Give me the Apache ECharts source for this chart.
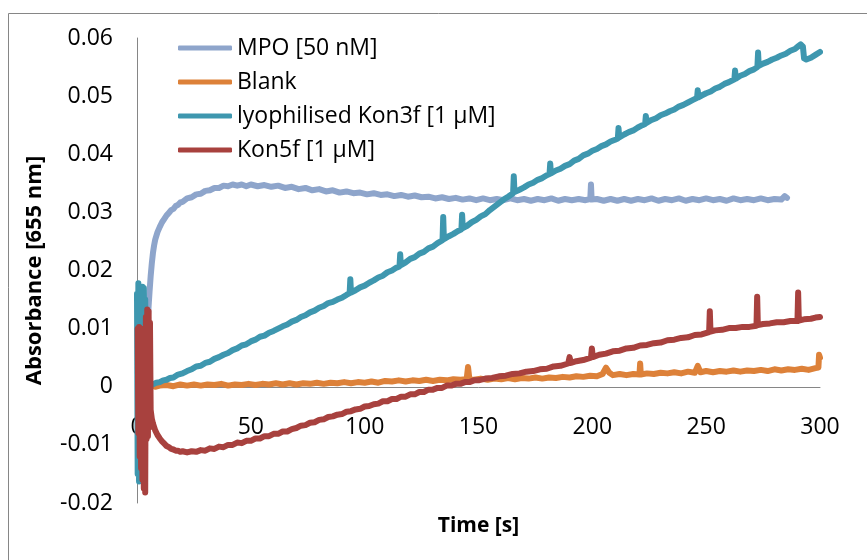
<!DOCTYPE html>
<html>
<head>
<meta charset="utf-8">
<title>Absorbance at 655 nm over time</title>
<script src="https://cdn.jsdelivr.net/npm/echarts@6/dist/echarts.min.js"></script>
<style>
  html, body { margin: 0; padding: 0; background: #fff; }
  #chart { width: 867px; height: 560px; }
</style>
</head>
<body>
<div id="chart"></div>
<script>
// Series names as shown in the legend
const seriesNames = ['MPO [50 nM]', 'Blank', 'lyophilised Kon3f [1 µM]', 'Kon5f [1 µM]'];

// Axis ranges
const timeRange = [0, 300, 50];          // min, max, step (s)
const absRange = [-0.02, 0.06, 0.01];    // min, max, step

// MPO [50 nM]: [time s, absorbance]
const mpo = [
  [3.5, 0.0060], [4.0, 0.0085], [4.5, 0.0105], [5.0, 0.0133], [5.5, 0.0163], [6.0, 0.0190],
  [6.5, 0.0212], [7.0, 0.0230], [7.5, 0.0243], [8.0, 0.0253], [9.0, 0.0266], [10, 0.0275],
  [11, 0.0283], [12, 0.0289], [13, 0.0295], [14, 0.0299], [15, 0.0304], [16, 0.0306],
  [17, 0.0311], [18, 0.0313], [19, 0.0317], [20, 0.0318], [22, 0.0324], [24, 0.0326],
  [26, 0.0331], [28, 0.0332], [30, 0.0337], [32, 0.0338], [34, 0.0342], [36, 0.0342],
  [38, 0.0346], [40, 0.0345], [42, 0.0348], [44, 0.0346], [46, 0.0348], [48, 0.0345],
  [50, 0.0348], [53, 0.0345], [56, 0.0347], [59, 0.0344], [62, 0.0346], [65, 0.0342],
  [68, 0.0344], [71, 0.0340], [74, 0.0342], [77, 0.0338], [80, 0.0340], [83, 0.0336],
  [86, 0.0338], [89, 0.0334], [92, 0.0336], [95, 0.0333], [98, 0.0334], [101, 0.0331],
  [104, 0.0333], [107, 0.0330], [110, 0.0331], [113, 0.0328], [116, 0.0330], [119, 0.0327],
  [122, 0.0329], [125, 0.0326], [128, 0.0327], [131, 0.0324], [134, 0.0326], [137, 0.0323],
  [140, 0.0325], [143, 0.0322], [146, 0.0324], [149, 0.0321], [152, 0.0324], [155, 0.0321],
  [158, 0.0323], [161, 0.0321], [164, 0.0324], [167, 0.0321], [170, 0.0323], [173, 0.0320],
  [176, 0.0323], [179, 0.0321], [182, 0.0324], [185, 0.0320], [188, 0.0323], [191, 0.0321],
  [194, 0.0323], [197, 0.0321], [199.1, 0.0323], [199.4, 0.0348], [199.7, 0.0322],
  [202, 0.0323], [205, 0.0320], [208, 0.0323], [211, 0.0320], [214, 0.0323], [217, 0.0320],
  [220, 0.0323], [223, 0.0321], [226, 0.0324], [229, 0.0320], [232, 0.0323], [235, 0.0321],
  [238, 0.0324], [241, 0.0320], [244, 0.0323], [247, 0.0321], [250, 0.0324], [253, 0.0321],
  [256, 0.0323], [259, 0.0320], [262, 0.0324], [265, 0.0321], [268, 0.0323], [271, 0.0321],
  [274, 0.0324], [277, 0.0321], [280, 0.0323], [283, 0.0322], [284.5, 0.0328], [285.5, 0.0325]
];

// Blank: [time s, absorbance]
const blank = [
  [8, 0.0000], [10, 0.0002], [13, 0.0003], [16, 0.0001], [19, 0.0004], [22, 0.0002],
  [25, 0.0004], [28, 0.0002], [31, 0.0004], [34, 0.0003], [37, 0.0005], [40, 0.0002],
  [43, 0.0004], [46, 0.0003], [49, 0.0005], [52, 0.0003], [55, 0.0005], [58, 0.0004],
  [61, 0.0006], [64, 0.0004], [67, 0.0006], [70, 0.0004], [73, 0.0006], [76, 0.0005],
  [79, 0.0007], [82, 0.0005], [85, 0.0007], [88, 0.0006], [91, 0.0008], [94, 0.0006],
  [97, 0.0008], [100, 0.0007], [103, 0.0009], [106, 0.0007], [109, 0.0010], [112, 0.0009],
  [115, 0.0011], [118, 0.0009], [121, 0.0011], [124, 0.0010], [127, 0.0012], [130, 0.0010],
  [133, 0.0012], [136, 0.0011], [139, 0.0013], [142, 0.0012], [144.8, 0.0013], [145.4, 0.0034],
  [146.0, 0.0013], [148, 0.0012], [151, 0.0014], [154, 0.0012], [157, 0.0014], [160, 0.0013],
  [163, 0.0015], [166, 0.0013], [169, 0.0015], [172, 0.0014], [175, 0.0016], [178, 0.0014],
  [181, 0.0016], [184, 0.0015], [187, 0.0017], [190, 0.0016], [193, 0.0018], [196, 0.0017],
  [199, 0.0019], [202, 0.0018], [204.5, 0.0022], [206, 0.0033], [207.5, 0.0024], [209, 0.0020],
  [212, 0.0022], [215, 0.0020], [218, 0.0022], [220.7, 0.0021], [221.0, 0.0040], [221.3, 0.0021],
  [224, 0.0023], [227, 0.0022], [230, 0.0024], [233, 0.0023], [236, 0.0025], [239, 0.0023],
  [242, 0.0026], [245, 0.0024], [246.3, 0.0036], [247.5, 0.0025], [250, 0.0027], [253, 0.0025],
  [256, 0.0027], [259, 0.0026], [262, 0.0028], [265, 0.0026], [268, 0.0028], [271, 0.0027],
  [274, 0.0029], [277, 0.0027], [280, 0.0030], [283, 0.0028], [286, 0.0030], [289, 0.0029],
  [292, 0.0031], [295, 0.0029], [298, 0.0032], [299.3, 0.0033], [299.6, 0.0055], [300, 0.0050]
];

// lyophilised Kon3f [1 µM]: [time s, absorbance]
const kon3f = [
  [0.0, 0.0160], [0.3, -0.0150], [0.6, 0.0178], [0.9, -0.0163], [1.2, 0.0172], [1.5, -0.0158],
  [1.8, 0.0170], [2.1, -0.0120], [2.4, 0.0172], [2.7, -0.0060], [3.0, 0.0170], [3.3, 0.0020],
  [3.6, 0.0150], [3.9, 0.0040], [4.3, 0.0065], [4.8, 0.0025], [5.4, 0.0010], [6.0, 0.0004],
  [7, 0.0004], [8.5, 0.0007], [10, 0.0008], [11.5, 0.0011], [13, 0.0012], [14.5, 0.0015],
  [16, 0.0016], [18, 0.0021], [20, 0.0023], [22, 0.0027], [24, 0.0030], [26, 0.0035],
  [28, 0.0036], [30, 0.0041], [32, 0.0043], [34, 0.0048], [36, 0.0051], [38, 0.0055],
  [40, 0.0058], [42, 0.0063], [44, 0.0066], [46, 0.0071], [48, 0.0073], [50, 0.0078],
  [52, 0.0081], [54, 0.0086], [56, 0.0088], [58, 0.0093], [60, 0.0096], [62, 0.0100],
  [64, 0.0104], [66, 0.0107], [68, 0.0112], [70, 0.0115], [72, 0.0120], [74, 0.0123],
  [76, 0.0128], [78, 0.0131], [80, 0.0136], [82, 0.0139], [84, 0.0144], [86, 0.0146],
  [88, 0.0150], [90, 0.0153], [92, 0.0158], [93.4, 0.0161], [93.7, 0.0185], [94.0, 0.0162],
  [96, 0.0166], [98, 0.0171], [100, 0.0174], [102, 0.0179], [104, 0.0183], [106, 0.0188],
  [108, 0.0191], [110, 0.0197], [112, 0.0200], [114, 0.0205], [115.3, 0.0207], [115.6, 0.0228],
  [115.9, 0.0209], [118, 0.0214], [120, 0.0220], [122, 0.0223], [124, 0.0229], [126, 0.0232],
  [128, 0.0238], [130, 0.0241], [132, 0.0247], [134.2, 0.0252], [134.5, 0.0292], [134.8, 0.0254],
  [137, 0.0259], [139, 0.0263], [141, 0.0268], [142.5, 0.0271], [142.8, 0.0296], [143.1, 0.0273],
  [145, 0.0277], [147, 0.0283], [149, 0.0287], [151, 0.0293], [153, 0.0297], [155, 0.0304],
  [157, 0.0310], [159, 0.0316], [161, 0.0322], [163, 0.0327], [165.2, 0.0333], [165.5, 0.0362],
  [165.8, 0.0335], [168, 0.0339], [170, 0.0343], [172, 0.0348], [174, 0.0351], [176, 0.0356],
  [178, 0.0359], [180, 0.0364], [181.2, 0.0366], [181.5, 0.0384], [181.8, 0.0367], [184, 0.0372],
  [186, 0.0375], [188, 0.0380], [190, 0.0383], [192, 0.0389], [194, 0.0392], [196, 0.0398],
  [198, 0.0401], [200, 0.0406], [202, 0.0409], [204, 0.0414], [206, 0.0417], [208, 0.0422],
  [210, 0.0425], [211.2, 0.0427], [211.5, 0.0445], [211.8, 0.0429], [214, 0.0434], [216, 0.0438],
  [218, 0.0441], [220, 0.0446], [222, 0.0450], [223.2, 0.0452], [223.5, 0.0466], [223.8, 0.0454],
  [226, 0.0459], [228, 0.0462], [230, 0.0467], [232, 0.0470], [234, 0.0474], [236, 0.0477],
  [238, 0.0482], [240, 0.0485], [242, 0.0489], [244, 0.0493], [246, 0.0497], [246.3, 0.0510],
  [246.6, 0.0498], [248, 0.0501], [250, 0.0505], [252, 0.0508], [254, 0.0513], [256, 0.0516],
  [258, 0.0521], [260, 0.0524], [262.4, 0.0529], [262.7, 0.0544], [263.0, 0.0530], [265, 0.0535],
  [267, 0.0538], [269, 0.0543], [271, 0.0546], [272.5, 0.0550], [272.8, 0.0575], [273.1, 0.0552],
  [275, 0.0556], [277, 0.0559], [279, 0.0563], [281, 0.0566], [283, 0.0570], [285, 0.0573],
  [287, 0.0578], [289, 0.0581], [290.5, 0.0586], [291.5, 0.0589], [292.5, 0.0585], [293.0, 0.0565],
  [294, 0.0563], [296, 0.0566], [298, 0.0571], [300, 0.0576]
];

// Kon5f [1 µM]: [time s, absorbance]
const kon5f = [
  [0.3, 0.0100], [0.6, -0.0080], [0.9, 0.0103], [1.2, -0.0120], [1.5, 0.0095], [1.8, -0.0140],
  [2.1, 0.0100], [2.4, -0.0160], [2.7, 0.0090], [3.0, -0.0175], [3.3, 0.0080], [3.6, -0.0182],
  [3.9, 0.0120], [4.2, -0.0090], [4.5, 0.0133], [4.8, -0.0085], [5.1, 0.0130], [5.4, -0.0070],
  [5.7, 0.0110], [6.0, -0.0040], [6.5, -0.0055], [7, -0.0063], [8, -0.0075], [9, -0.0083],
  [10, -0.0089], [11, -0.0094], [12, -0.0098], [13, -0.0102], [14, -0.0104], [15, -0.0107],
  [16, -0.0108], [17, -0.0110], [18, -0.0110], [19, -0.0112], [20, -0.0111], [22, -0.0113],
  [24, -0.0111], [26, -0.0112], [28, -0.0109], [30, -0.0110], [32, -0.0106], [34, -0.0107],
  [36, -0.0103], [38, -0.0104], [40, -0.0100], [42, -0.0100], [44, -0.0096], [46, -0.0097],
  [48, -0.0093], [50, -0.0093], [52, -0.0089], [54, -0.0089], [56, -0.0085], [58, -0.0085],
  [60, -0.0081], [62, -0.0081], [64, -0.0077], [66, -0.0077], [68, -0.0073], [70, -0.0071],
  [72, -0.0067], [74, -0.0066], [76, -0.0062], [78, -0.0061], [80, -0.0057], [82, -0.0056],
  [84, -0.0052], [86, -0.0051], [88, -0.0048], [90, -0.0047], [92, -0.0043], [94, -0.0042],
  [96, -0.0039], [98, -0.0038], [100, -0.0034], [102, -0.0033], [104, -0.0030], [106, -0.0029],
  [108, -0.0025], [110, -0.0025], [112, -0.0021], [114, -0.0021], [116, -0.0017], [118, -0.0017],
  [120, -0.0013], [122, -0.0013], [124, -0.0009], [126, -0.0009], [128, -0.0005], [130, -0.0005],
  [132, -0.0002], [134, -0.0002], [136, 0.0002], [138, 0.0002], [140, 0.0005], [142, 0.0005],
  [144, 0.0008], [146, 0.0008], [148, 0.0011], [150, 0.0011], [153, 0.0014], [156, 0.0015],
  [159, 0.0018], [162, 0.0019], [165, 0.0022], [168, 0.0023], [171, 0.0026], [174, 0.0027],
  [177, 0.0030], [180, 0.0031], [183, 0.0035], [186, 0.0036], [189.4, 0.0040], [190, 0.0051],
  [190.6, 0.0041], [193, 0.0044], [196, 0.0046], [199.4, 0.0050], [199.8, 0.0066], [200.2, 0.0051],
  [203, 0.0055], [206, 0.0057], [209, 0.0061], [212, 0.0062], [215, 0.0066], [218, 0.0067],
  [221, 0.0071], [224, 0.0072], [227, 0.0075], [230, 0.0076], [233, 0.0080], [236, 0.0081],
  [239, 0.0084], [242, 0.0085], [245, 0.0089], [248, 0.0090], [251.3, 0.0094], [251.6, 0.0130],
  [251.9, 0.0095], [254, 0.0097], [257, 0.0098], [260, 0.0101], [263, 0.0101], [266, 0.0103],
  [269, 0.0103], [272.1, 0.0105], [272.4, 0.0155], [272.7, 0.0106], [275, 0.0108], [278, 0.0109],
  [281, 0.0111], [284, 0.0111], [287, 0.0113], [290.1, 0.0113], [290.4, 0.0162], [290.7, 0.0114],
  [293, 0.0116], [296, 0.0117], [298, 0.0119], [300, 0.0120]
];

const seriesData = [mpo, blank, kon3f, kon5f];
const seriesColors = ['#8EA5CB', '#DD8139', '#3E97AF', '#A8413E'];

const FONT = '"Open Sans", "Noto Sans", sans-serif';
const AXIS_GREY = '#868686';

// Plot area in pixels
const GRID = { left: 137, right: 47, top: 38, bottom: 57 };
const CHART_H = 560;
const plotHeight = CHART_H - GRID.top - GRID.bottom;
// The time axis sits on the zero line of the absorbance scale
const timeAxisOffset = -plotHeight * (0 - absRange[0]) / (absRange[1] - absRange[0]);

const chart = echarts.init(document.getElementById('chart'), null, { renderer: 'canvas' });

chart.setOption({
  animation: false,
  backgroundColor: '#ffffff',
  textStyle: { fontFamily: FONT },
  graphic: [{
    type: 'rect',
    shape: { x: 8.5, y: 13.5, width: 900, height: 600 },
    style: { fill: 'none', stroke: AXIS_GREY, lineWidth: 1 },
    silent: true,
    z: -10
  }],
  grid: {
    left: GRID.left, right: GRID.right, top: GRID.top, bottom: GRID.bottom,
    containLabel: false,
    outerBoundsMode: 'none'
  },
  legend: {
    orient: 'vertical',
    left: 178,
    top: 31,
    padding: 0,
    itemWidth: 54,
    itemHeight: 5,
    itemGap: 0,
    icon: 'roundRect',
    selectedMode: false,
    data: seriesNames,
    textStyle: { fontFamily: FONT, fontSize: 23, color: '#000', lineHeight: 34 }
  },
  xAxis: {
    type: 'value',
    position: 'bottom',
    offset: timeAxisOffset,
    min: timeRange[0],
    max: timeRange[1],
    interval: timeRange[2],
    name: 'Time [s]',
    nameLocation: 'middle',
    nameGap: 129,
    nameTextStyle: { fontFamily: FONT, fontSize: 21, fontWeight: 'bold', color: '#000' },
    axisLine: { show: true, onZero: false, lineStyle: { color: AXIS_GREY, width: 1 } },
    axisTick: { show: false },
    splitLine: { show: false },
    axisLabel: { fontFamily: FONT, fontSize: 23, color: '#000', margin: 29 }
  },
  yAxis: {
    type: 'value',
    min: absRange[0],
    max: absRange[1],
    interval: absRange[2],
    name: 'Absorbance [655 nm]',
    nameLocation: 'middle',
    nameGap: 91,
    nameTextStyle: { fontFamily: FONT, fontSize: 22, fontWeight: 'bold', color: '#000' },
    axisLine: { show: true, lineStyle: { color: AXIS_GREY, width: 1 } },
    axisTick: { show: false },
    splitLine: { show: false },
    axisLabel: {
      fontFamily: FONT, fontSize: 23, color: '#000', margin: 24,
      formatter: function (v) {
        const r = Math.round(v * 100) / 100;
        return r === 0 ? '0' : String(r);
      }
    }
  },
  series: seriesNames.map(function (name, i) {
    return {
      name: name,
      type: 'line',
      data: seriesData[i],
      showSymbol: false,
      symbol: 'none',
      color: seriesColors[i],
      lineStyle: { color: seriesColors[i], width: 6, cap: 'round', join: 'round' },
      emphasis: { disabled: true }
    };
  })
});
</script>
</body>
</html>
